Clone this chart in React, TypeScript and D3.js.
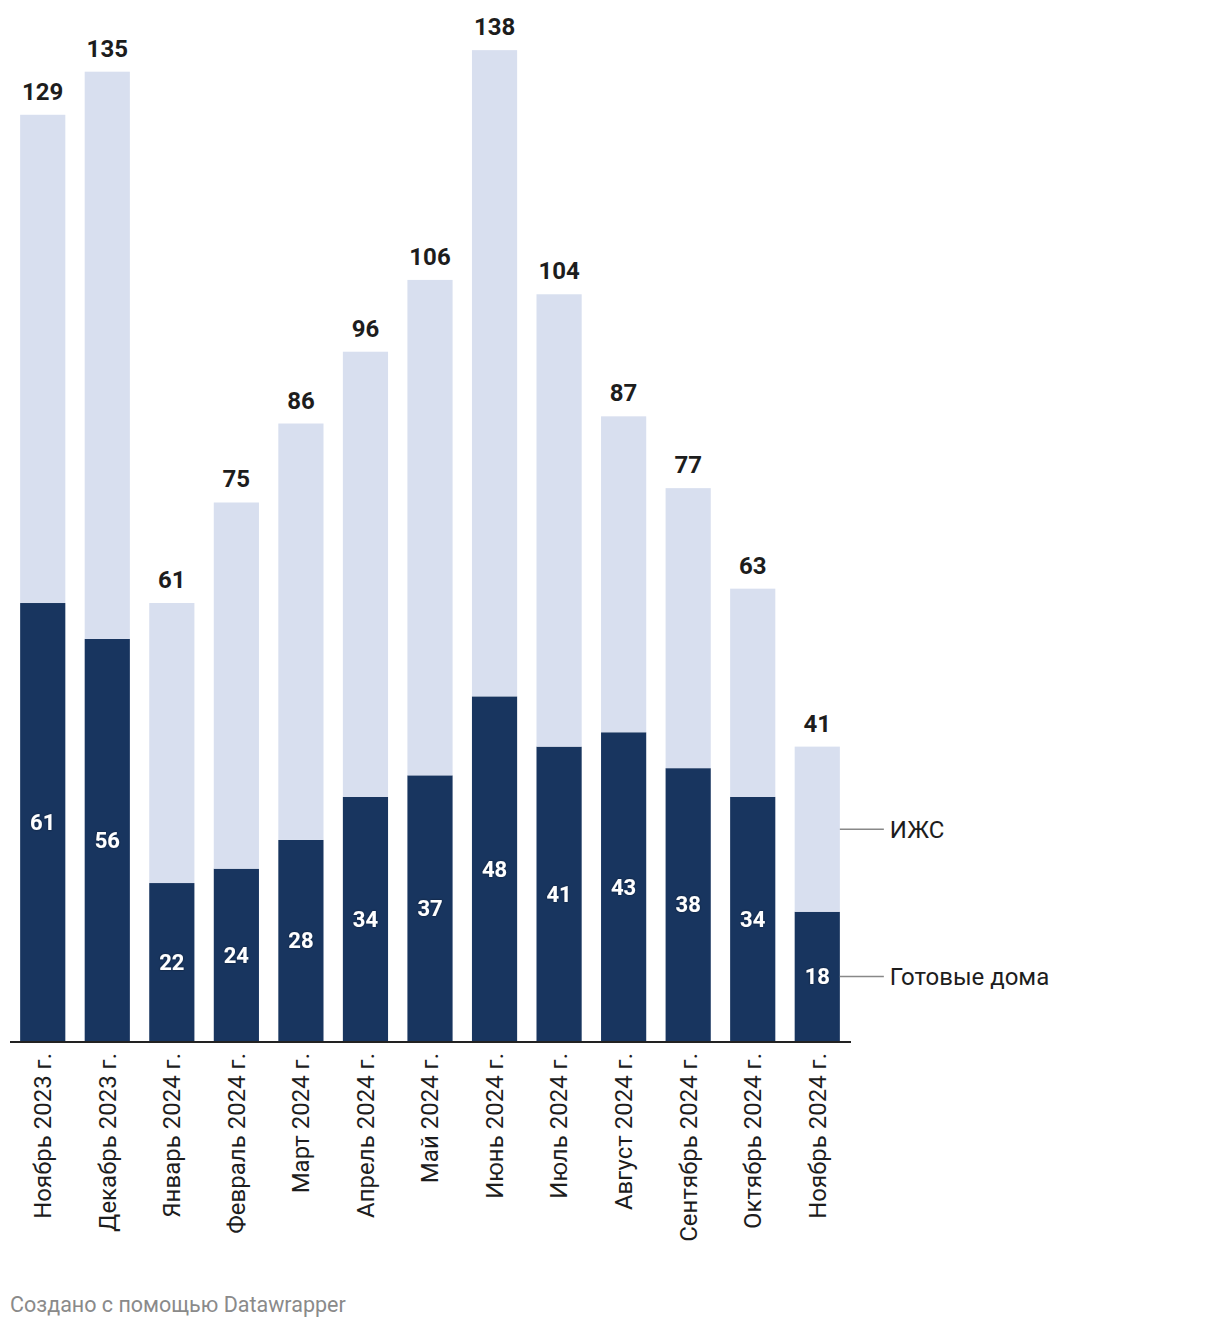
import React from "react";
import * as d3 from "d3";

const categories = [
  "Ноябрь 2023 г.",
  "Декабрь 2023 г.",
  "Январь 2024 г.",
  "Февраль 2024 г.",
  "Март 2024 г.",
  "Апрель 2024 г.",
  "Май 2024 г.",
  "Июнь 2024 г.",
  "Июль 2024 г.",
  "Август 2024 г.",
  "Сентябрь 2024 г.",
  "Октябрь 2024 г.",
  "Ноябрь 2024 г.",
];
const readyHomes = [61, 56, 22, 24, 28, 34, 37, 48, 41, 43, 38, 34, 18];
const totals = [129, 135, 61, 75, 86, 96, 106, 138, 104, 87, 77, 63, 41];
const seriesNames = ["Готовые дома", "ИЖС"];
const colors = ["#18355f", "#d8dfef"];

const W = 1220;
const H = 1328;
const FONT = "Roboto, 'Noto Sans', sans-serif";

export default function App() {
  const rows = categories.map((c, i) => ({
    cat: c,
    ready: readyHomes[i],
    izhs: totals[i] - readyHomes[i],
    total: totals[i],
  }));
  const stack = d3.stack<any>().keys(["ready", "izhs"])(rows);

  const x = d3
    .scaleBand()
    .domain(categories)
    .range([12.4, 847.6])
    .paddingInner(0.3)
    .paddingOuter(0.12);
  const baseline = 1041;
  const y = d3.scaleLinear().domain([0, 138.3]).range([baseline, 48]);

  const last = rows.length - 1;
  const lastX = (x(categories[last]) as number) + x.bandwidth();

  return (
    <svg width={W} height={H} style={{ position: "absolute", left: 0, top: 0, background: "#fff" }}>
      <defs>
        <filter id="ts" x="-20%" y="-20%" width="140%" height="140%">
          <feDropShadow dx="0" dy="0" stdDeviation="1.2" floodColor="#000" floodOpacity="0.5" />
        </filter>
      </defs>
      {stack.map((layer, li) => (
        <g key={li}>
          {layer.map((d, i) => (
            <rect
              key={i}
              x={x(categories[i])}
              width={x.bandwidth()}
              y={y(d[1])}
              height={y(d[0]) - y(d[1])}
              fill={colors[li]}
            />
          ))}
        </g>
      ))}
      {/* inner labels */}
      {rows.map((r, i) => (
        <text
          key={"in" + i}
          x={(x(r.cat) as number) + x.bandwidth() / 2}
          y={(y(0) + y(r.ready)) / 2}
          dy="0.36em"
          textAnchor="middle"
          fill="#fff"
          fontFamily={FONT}
          fontWeight={700}
          fontSize={22}
          filter="url(#ts)"
        >
          {r.ready}
        </text>
      ))}
      {/* total labels */}
      {rows.map((r, i) => (
        <text
          key={"tot" + i}
          x={(x(r.cat) as number) + x.bandwidth() / 2}
          y={y(r.total) - 15}
          textAnchor="middle"
          fill="#1d1d1d"
          fontFamily={FONT}
          fontWeight={700}
          fontSize={24}
        >
          {r.total}
        </text>
      ))}
      {/* axis line */}
      <line x1={10} x2={851} y1={baseline + 1} y2={baseline + 1} stroke="#222" strokeWidth={2} />
      {/* x labels */}
      {rows.map((r, i) => {
        const cx = (x(r.cat) as number) + x.bandwidth() / 2;
        return (
          <text
            key={"xl" + i}
            transform={`translate(${cx},${baseline + 12}) rotate(-90)`}
            textAnchor="end"
            dy="0.35em"
            fill="#1d1d1d"
            fontFamily={FONT}
            fontSize={24}
          >
            {r.cat}
          </text>
        );
      })}
      {/* direct legend */}
      {[
        { name: seriesNames[0], yy: (y(0) + y(rows[last].ready)) / 2 },
        { name: seriesNames[1], yy: (y(rows[last].ready) + y(rows[last].total)) / 2 },
      ].map((l, i) => (
        <g key={"lg" + i}>
          <line x1={lastX} x2={lastX + 44} y1={l.yy} y2={l.yy} stroke="#888" strokeWidth={1.5} />
          <text x={lastX + 50} y={l.yy} dy="0.35em" fill="#1d1d1d" fontFamily={FONT} fontSize={24}>
            {l.name}
          </text>
        </g>
      ))}
      <text x={10} y={1312} fill="#8a8a8a" fontFamily={FONT} fontSize={21.5}>
        Создано с помощью Datawrapper
      </text>
    </svg>
  );
}
